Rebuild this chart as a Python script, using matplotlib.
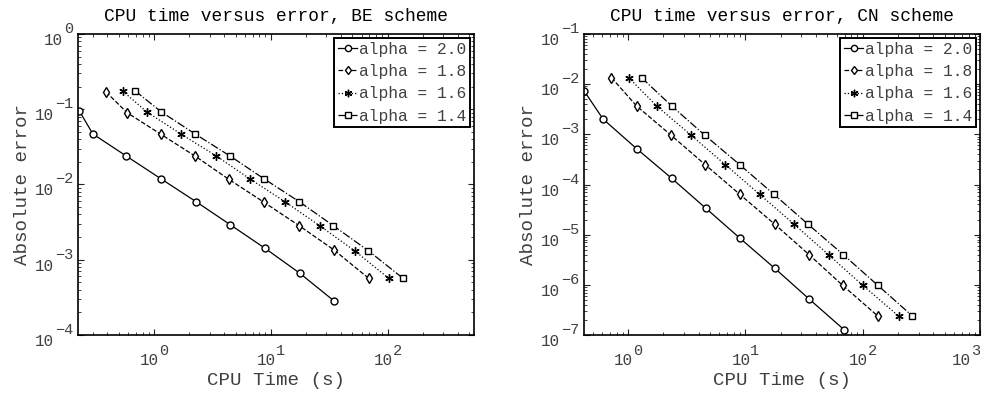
import matplotlib
matplotlib.use("Agg")
import matplotlib.pyplot as plt
from matplotlib.ticker import LogLocator, NullFormatter, FixedLocator

plt.rcParams['font.family'] = ['Liberation Mono', 'DejaVu Sans Mono']

labels = ['alpha = 2.0', 'alpha = 1.8', 'alpha = 1.6', 'alpha = 1.4']

# BE scheme
be_t20 = [0.23, 0.30, 0.58, 1.15, 2.29, 4.49, 8.94, 17.7, 34.8]
be_e20 = [0.095, 0.047, 0.0239, 0.0119, 0.00593, 0.00293, 0.00142, 0.000664, 0.000284]
be_t18 = [0.389, 0.588, 1.15, 2.25, 4.40, 8.77, 17.5, 34.8, 69.2]
be_e18 = [0.170, 0.0903, 0.0464, 0.0239, 0.01166, 0.0058, 0.00284, 0.00135, 0.000564]
be_t16 = [0.54, 0.871, 1.70, 3.43, 6.62, 13.2, 26.2, 52.2, 102.6]
be_e16 = [0.175, 0.092, 0.047, 0.0239, 0.0119, 0.00593, 0.00284, 0.00132, 0.000565]
be_t14 = [0.692, 1.16, 2.25, 4.49, 8.77, 17.5, 34.3, 68.4, 136]
be_e14 = [0.175, 0.092, 0.047, 0.0239, 0.0119, 0.00593, 0.00284, 0.00132, 0.000565]

# CN scheme
cn_t20 = [0.42, 0.61, 1.18, 2.35, 4.60, 8.94, 17.8, 34.9, 69.7]
cn_e20 = [0.0074, 0.00202, 0.000518, 0.0001327, 3.35e-5, 8.57e-6, 2.13e-6, 5.22e-7, 1.26e-7]
cn_t18 = [0.72, 1.18, 2.31, 4.54, 8.94, 17.8, 34.9, 67.4, 134.5]
cn_e18 = [0.0135, 0.00367, 0.00097, 0.000248, 6.37e-5, 1.61e-5, 3.99e-6, 9.77e-7, 2.39e-7]
cn_t16 = [1.01, 1.75, 3.42, 6.74, 13.2, 26.0, 51.1, 100, 202]
cn_e16 = [0.0135, 0.00367, 0.00097, 0.000248, 6.37e-5, 1.61e-5, 3.99e-6, 9.77e-7, 2.39e-7]
cn_t14 = [1.30, 2.35, 4.48, 8.94, 17.5, 34.2, 68.3, 134.5, 265]
cn_e14 = [0.0135, 0.00367, 0.00097, 0.000248, 6.37e-5, 1.61e-5, 3.99e-6, 9.77e-7, 2.39e-7]

styles = [
    dict(ls='-', marker='o', ms=5, mfc='white'),
    dict(ls='--', marker='d', ms=5, mfc='white'),
    dict(ls=':', marker=(6, 2, 0), ms=6, mfc='black'),
    dict(ls='-.', marker='s', ms=5, mfc='white'),
]

W, H, DPI = 990, 394, 100
txt = '#404040'
fig = plt.figure(figsize=(W / DPI, H / DPI), dpi=DPI)
axL = fig.add_axes([78/W, 59/H, 396/W, 301/H])
axR = fig.add_axes([584/W, 59/H, 396/W, 301/H])

FS10 = 11.4   # "10" size
FSE = 11.0    # exponent size
CW10 = 0.6 * FS10 * DPI / 72
CWE = 0.6 * FSE * DPI / 72


def ftext(x, y, s, size, **kw):
    fig.text(x / W, y / H, s, fontsize=size, color=txt, **kw)


def exp_str(k):
    return str(k).replace('-', '\u2212')


def draw(ax, series, title, xlim, ylim):
    for (t, e), st, lab in zip(series, styles, labels):
        ax.loglog(t, e, color='black', lw=0.9, mec='black', mew=1.0,
                  label=lab, **st)
    ax.set_xlim(*xlim)
    ax.set_ylim(*ylim)
    ax.set_title(title, fontsize=12.9, color='black', pad=9)
    ax.set_xlabel('CPU Time (s)', fontsize=13.8, color=txt, labelpad=23)
    ax.set_ylabel('Absolute error', fontsize=13.8, color=txt, labelpad=30)
    ax.xaxis.set_minor_locator(LogLocator(base=10, subs=range(2, 10), numticks=20))
    ax.yaxis.set_minor_locator(LogLocator(base=10, subs=range(2, 10), numticks=20))
    xk = [k for k in range(-10, 10) if xlim[0] <= 10.0 ** k * 1.0000001 and 10.0 ** k <= xlim[1] * 1.0000001]
    yk = [k for k in range(-10, 10) if ylim[0] <= 10.0 ** k * 1.0000001 and 10.0 ** k <= ylim[1] * 1.0000001]
    ax.xaxis.set_major_locator(FixedLocator([10.0 ** k for k in xk]))
    ax.yaxis.set_major_locator(FixedLocator([10.0 ** k for k in yk]))
    ax.xaxis.set_major_formatter(NullFormatter())
    ax.yaxis.set_major_formatter(NullFormatter())
    ax.xaxis.set_minor_formatter(NullFormatter())
    ax.yaxis.set_minor_formatter(NullFormatter())
    ax.tick_params(which='both', direction='in', top=True, right=True,
                   colors='#222222')
    ax.tick_params(which='major', length=4, width=0.8)
    ax.tick_params(which='minor', length=2, width=0.6)
    for s in ax.spines.values():
        s.set_linewidth(1.2)

    # tick labels as "10" + raised exponent (MATLAB style)
    x0d, y0d = ax.transData.transform((xlim[0], ylim[0]))
    for k in xk:
        cx, _ = ax.transData.transform((10.0 ** k, ylim[0]))
        e = exp_str(k)
        total = 2 * CW10 + len(e) * CWE
        left = cx - total / 2
        if left + total > W - 2:
            left = W - 2 - total - 8
        ftext(left, y0d - 30, '10', FS10, ha='left', va='baseline')
        ftext(left + 2 * CW10, y0d - 20, e, FSE, ha='left', va='baseline')
    for k in yk:
        _, cy = ax.transData.transform((xlim[0], 10.0 ** k))
        e = exp_str(k)
        right = x0d - 5
        ftext(right, cy + 1, e, FSE, ha='right', va='baseline')
        ftext(right - len(e) * CWE - 1, cy - 11, '10', FS10, ha='right', va='baseline')

    leg = ax.legend(loc='upper right', fontsize=11.7, handlelength=1.2,
                    handletextpad=0.1, borderaxespad=0.25, borderpad=0.22,
                    labelspacing=0.45, fancybox=False, framealpha=1,
                    edgecolor='black', markerscale=0.9)
    leg.get_frame().set_linewidth(1.4)
    for t in leg.get_texts():
        t.set_color(txt)


draw(axL, [(be_t20, be_e20), (be_t18, be_e18), (be_t16, be_e16), (be_t14, be_e14)],
     'CPU time versus error, BE scheme', (0.224, 550), (1e-4, 1))
draw(axR, [(cn_t20, cn_e20), (cn_t18, cn_e18), (cn_t16, cn_e16), (cn_t14, cn_e14)],
     'CPU time versus error, CN scheme', (0.42, 1000), (1e-7, 1e-1))

fig.savefig('out.png', dpi=DPI)
